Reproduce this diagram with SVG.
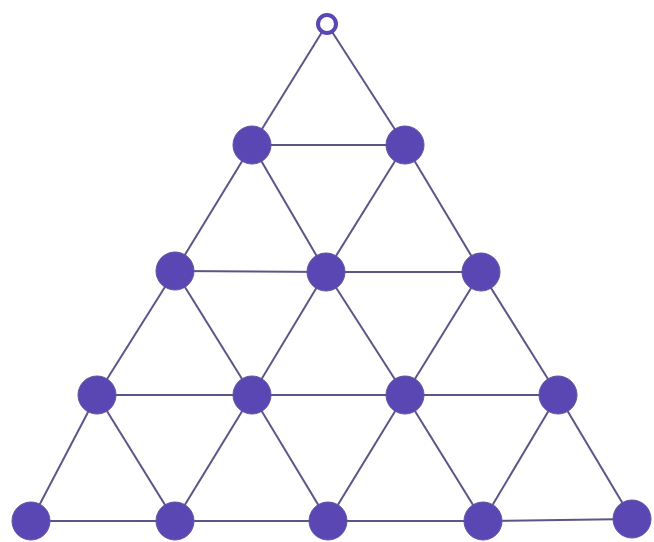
<svg xmlns="http://www.w3.org/2000/svg" width="654" height="542" viewBox="0 0 654 542">
<style>
.e{stroke:#5c5688;stroke-width:2;fill:none}
.n{fill:#5a47b3;stroke:#5f55a0;stroke-width:1}
.r{fill:#fff;stroke:#5a47b3;stroke-width:4}
</style>
<rect width="654" height="542" fill="#fff"/>
<g id="connectors">
<line class="e" x1="327" y1="24" x2="252" y2="145"/>
<line class="e" x1="327" y1="24" x2="405" y2="145"/>
<line class="e" x1="252" y1="145" x2="405" y2="145"/>
<line class="e" x1="252" y1="145" x2="175" y2="271"/>
<line class="e" x1="252" y1="145" x2="326" y2="272"/>
<line class="e" x1="405" y1="145" x2="326" y2="272"/>
<line class="e" x1="405" y1="145" x2="481" y2="272"/>
<line class="e" x1="175" y1="271" x2="326" y2="272"/>
<line class="e" x1="326" y1="272" x2="481" y2="272"/>
<line class="e" x1="175" y1="271" x2="97" y2="395"/>
<line class="e" x1="175" y1="271" x2="252" y2="395"/>
<line class="e" x1="326" y1="272" x2="252" y2="395"/>
<line class="e" x1="326" y1="272" x2="405" y2="395"/>
<line class="e" x1="481" y1="272" x2="405" y2="395"/>
<line class="e" x1="481" y1="272" x2="558" y2="395"/>
<line class="e" x1="97" y1="395" x2="252" y2="395"/>
<line class="e" x1="252" y1="395" x2="405" y2="395"/>
<line class="e" x1="405" y1="395" x2="558" y2="395"/>
<line class="e" x1="97" y1="395" x2="31" y2="521"/>
<line class="e" x1="97" y1="395" x2="175" y2="521"/>
<line class="e" x1="252" y1="395" x2="175" y2="521"/>
<line class="e" x1="252" y1="395" x2="328" y2="521"/>
<line class="e" x1="405" y1="395" x2="328" y2="521"/>
<line class="e" x1="405" y1="395" x2="483" y2="521"/>
<line class="e" x1="558" y1="395" x2="483" y2="521"/>
<line class="e" x1="558" y1="395" x2="632" y2="519"/>
<line class="e" x1="31" y1="521" x2="175" y2="521"/>
<line class="e" x1="175" y1="521" x2="328" y2="521"/>
<line class="e" x1="328" y1="521" x2="483" y2="521"/>
<line class="e" x1="483" y1="521" x2="632" y2="519"/>
</g>
<g id="n0"><circle class="r" cx="327" cy="24" r="9"/></g>
<g id="n1"><circle class="n" cx="252" cy="145" r="19"/></g>
<g id="n2"><circle class="n" cx="405" cy="145" r="19"/></g>
<g id="n3"><circle class="n" cx="175" cy="271" r="19"/></g>
<g id="n4"><circle class="n" cx="326" cy="272" r="19"/></g>
<g id="n5"><circle class="n" cx="481" cy="272" r="19"/></g>
<g id="n6"><circle class="n" cx="97" cy="395" r="19"/></g>
<g id="n7"><circle class="n" cx="252" cy="395" r="19"/></g>
<g id="n8"><circle class="n" cx="405" cy="395" r="19"/></g>
<g id="n9"><circle class="n" cx="558" cy="395" r="19"/></g>
<g id="n10"><circle class="n" cx="31" cy="521" r="19"/></g>
<g id="n11"><circle class="n" cx="175" cy="521" r="19"/></g>
<g id="n12"><circle class="n" cx="328" cy="521" r="19"/></g>
<g id="n13"><circle class="n" cx="483" cy="521" r="19"/></g>
<g id="n14"><circle class="n" cx="632" cy="519" r="19"/></g>
</svg>
